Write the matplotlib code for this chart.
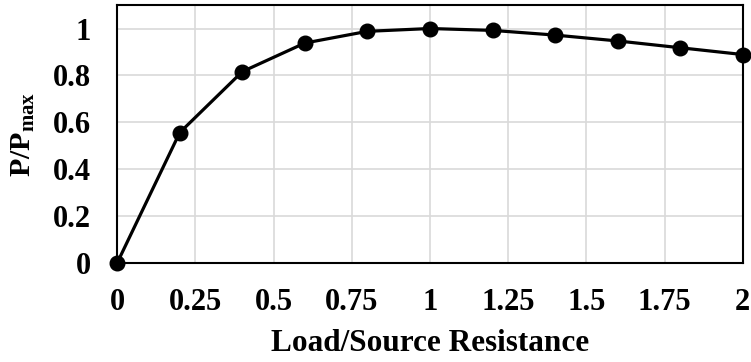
import matplotlib.pyplot as plt

# load-to-source resistance ratio vs normalised power
ratio = [0, 0.2, 0.4, 0.6, 0.8, 1.0, 1.2, 1.4, 1.6, 1.8, 2.0]
p_norm = [0, 0.556, 0.816, 0.938, 0.988, 1.0, 0.992, 0.972, 0.947, 0.918, 0.889]
xticks = [0, 0.25, 0.5, 0.75, 1, 1.25, 1.5, 1.75, 2]
xtick_labels = ['0', '0.25', '0.5', '0.75', '1', '1.25', '1.5', '1.75', '2']
yticks = [0, 0.2, 0.4, 0.6, 0.8, 1]
ytick_labels = ['0', '0.2', '0.4', '0.6', '0.8', '1']

plt.rcParams['font.family'] = 'Liberation Serif'
plt.rcParams['font.weight'] = 'bold'
plt.rcParams['mathtext.fontset'] = 'custom'
plt.rcParams['mathtext.rm'] = 'Liberation Serif:bold'
plt.rcParams['mathtext.it'] = 'Liberation Serif:bold'
plt.rcParams['mathtext.bf'] = 'Liberation Serif:bold'

fig = plt.figure(figsize=(7.51, 3.62), dpi=100)
ax = fig.add_axes([0.156, 0.2735, 0.833, 0.7125])

ax.plot(ratio, p_norm, color='black', lw=2.3, marker='o', ms=10.5,
        clip_on=False, zorder=5)

ax.set_xlim(0, 2)
ax.set_ylim(0, 1.1)
ax.set_xticks(xticks)
ax.set_xticklabels(xtick_labels)
ax.set_yticks(yticks)
ax.set_yticklabels(ytick_labels)
ax.tick_params(length=0, labelsize=22)
ax.tick_params(axis='x', pad=18)
ax.tick_params(axis='y', pad=19)
ax.grid(True, color='#d9d9d9', lw=1.2)
ax.set_axisbelow(True)
for s in ax.spines.values():
    s.set_color('black')
    s.set_linewidth(1.5)

ax.set_xlabel('Load/Source Resistance', fontsize=22.5, fontweight='bold', labelpad=9)
ax.set_ylabel(r'P/P$_{\mathrm{max}}$', fontsize=21.5, fontweight='bold')
ax.yaxis.set_label_coords(-0.128, 0.5)

fig.savefig('out.png', dpi=100)
